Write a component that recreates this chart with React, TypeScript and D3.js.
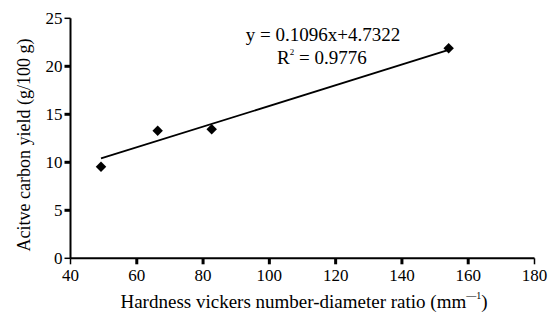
import React from "react";
import * as d3 from "d3";

const hardness = [49.2, 66.3, 82.6, 154.1];
const carbonYield = [9.54, 13.29, 13.44, 21.87];
const trendX = [49.2, 154.1];
const trendY = [10.4, 21.7];
const xTicks = [40, 60, 80, 100, 120, 140, 160, 180];
const yTicks = [0, 5, 10, 15, 20, 25];
const equationText = "y = 0.1096x+4.7322";
const r2Value = " = 0.9776";

const W = 552, H = 316;
const font = "'Liberation Serif', 'Times New Roman', serif";

export default function App() {
  const x = d3.scaleLinear().domain([40, 180]).range([70.5, 534.5]);
  const y = d3.scaleLinear().domain([0, 25]).range([258.3, 18.3]);
  const line = d3.line<number>().x((d, i) => x(trendX[i])).y((d) => y(d));
  const diamond = d3.symbol().type(d3.symbolDiamond2).size(70)();
  return (
    <svg width={W} height={H} style={{ position: "absolute", left: 0, top: 0, background: "#fff" }}
      fontFamily={font}>
      <rect width={W} height={H} fill="#fff" />
      {/* axes */}
      <line x1={x(40)} x2={x(180)} y1={y(0)} y2={y(0)} stroke="#000" strokeWidth={2} />
      <line x1={x(40)} x2={x(40)} y1={y(0)} y2={y(25)} stroke="#000" strokeWidth={2} />
      {xTicks.map((t) => (
        <g key={"x" + t}>
          <line x1={x(t)} x2={x(t)} y1={y(0)} y2={y(0) + 6} stroke="#000" strokeWidth={t === 40 || t === 180 ? 1.5 : 3} />
          <text x={x(t)} y={y(0) + 23} textAnchor="middle" fontSize={17}>{t}</text>
        </g>
      ))}
      {yTicks.map((t) => (
        <g key={"y" + t}>
          <line x1={x(40) - 6} x2={x(40)} y1={y(t)} y2={y(t)} stroke="#000" strokeWidth={t === 0 || t === 25 ? 1.5 : 3} />
          <text x={x(40) - 8} y={y(t) + 6} textAnchor="end" fontSize={17}>{t}</text>
        </g>
      ))}
      {/* trend line */}
      <path d={line(trendY) || ""} fill="none" stroke="#000" strokeWidth={1.8} />
      {/* points */}
      {hardness.map((h, i) => (
        <path key={i} d={diamond || ""} transform={`translate(${x(h)},${y(carbonYield[i])})`} fill="#000" />
      ))}
      {/* equation */}
      <text x={323} y={41} textAnchor="middle" fontSize={19}>{equationText}</text>
      <text x={277} y={64} fontSize={19}>
        R<tspan fontSize={9} dy={-9}>2</tspan><tspan dy={9}>{r2Value}</tspan>
      </text>
      {/* axis titles */}
      <text x={304} y={308} textAnchor="middle" fontSize={19}>
        Hardness vickers number-diameter ratio (mm<tspan fontSize={10} dy={-9}>—1</tspan><tspan dy={9}>)</tspan>
      </text>
      <text transform={`translate(30,${145}) rotate(-90)`} textAnchor="middle" fontSize={18}>
        Acitve carbon yield (g/100 g)
      </text>
    </svg>
  );
}
